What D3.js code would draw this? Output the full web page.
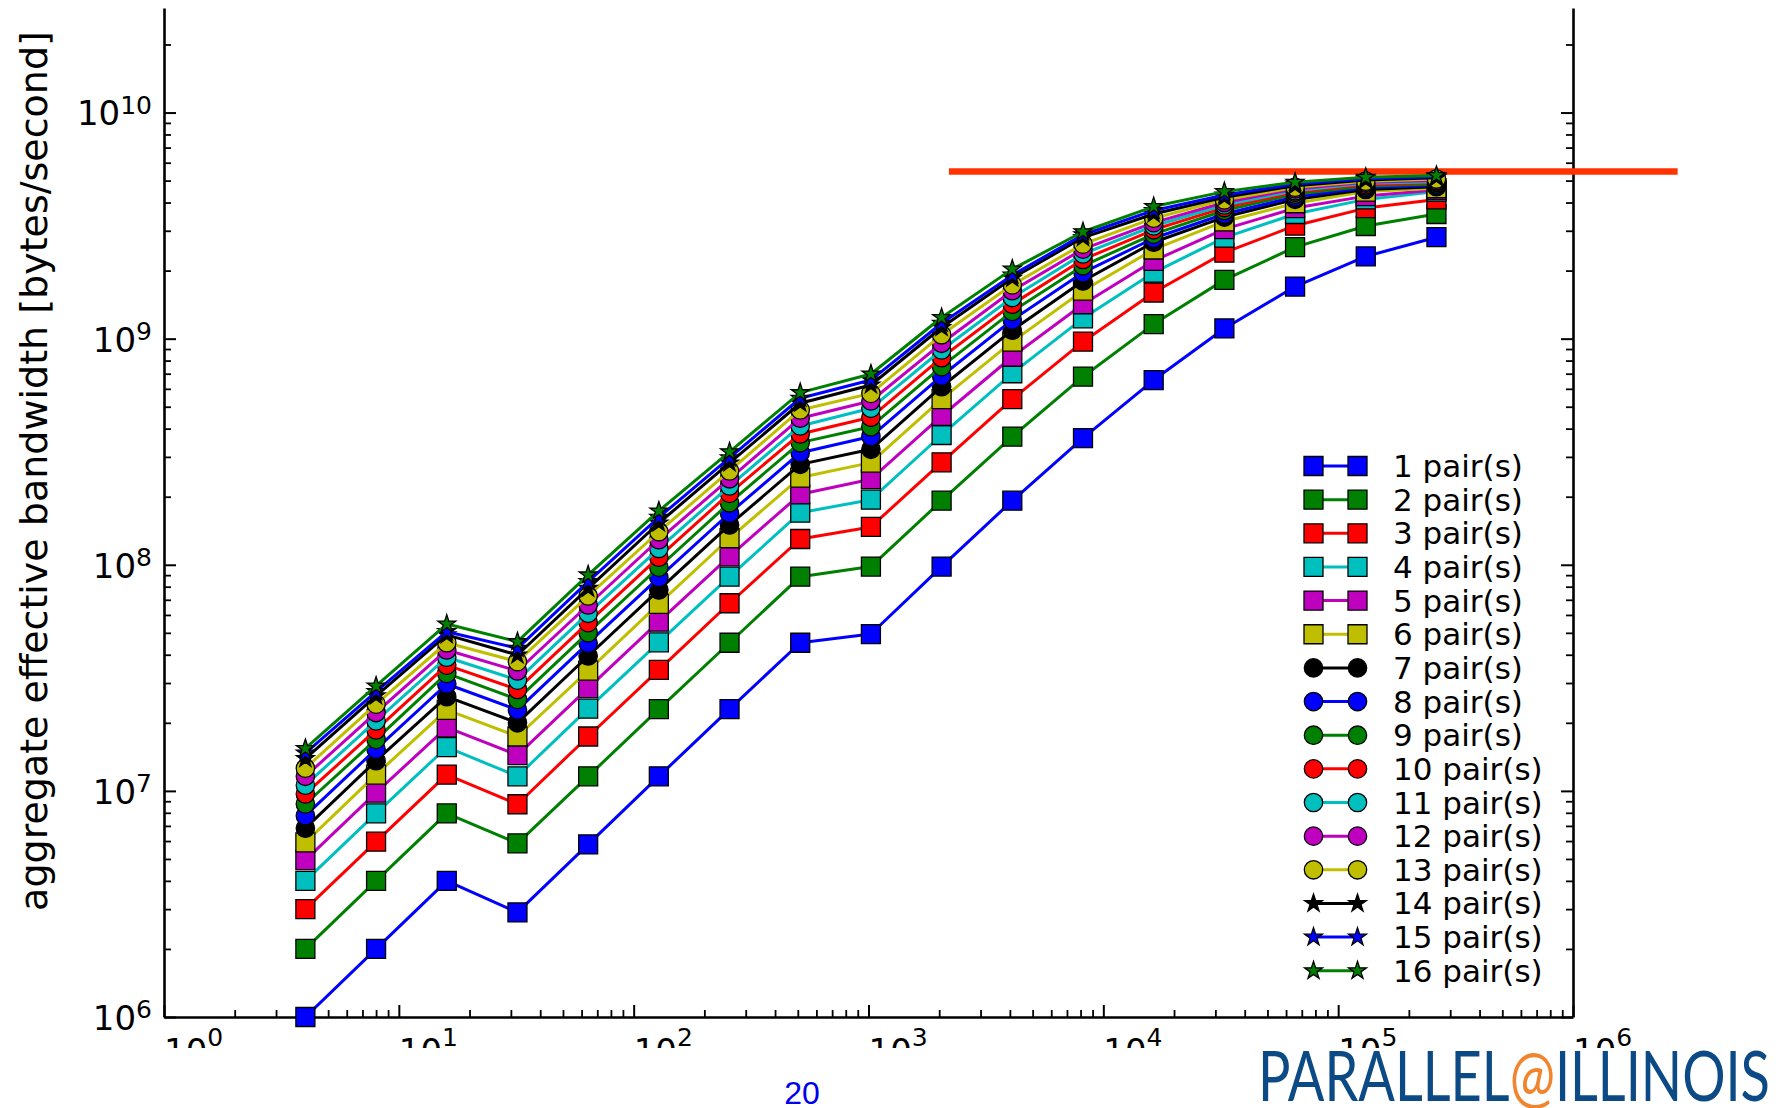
<!DOCTYPE html>
<html>
<head>
<meta charset="utf-8">
<script src="https://cdn.jsdelivr.net/npm/d3@7"></script>
<style>
  html, body { margin: 0; padding: 0; background: #ffffff; }
  svg { display: block; }
</style>
</head>
<body>
<script>
// Message sizes in bytes (x axis)
const messageSizes = [4, 8, 16, 32, 64, 128, 256, 512, 1024, 2048, 4096, 8192, 16384, 32768, 65536, 131072, 262144];

// Aggregate effective bandwidth in bytes/second, one array per number of pairs
const bw01 = [1.0e6, 2.0e6, 4.0e6, 2.9e6, 5.8e6, 1.16e7, 2.3e7, 4.52e7, 4.94e7, 9.82e7, 1.92e8, 3.63e8, 6.56e8, 1.11e9, 1.70e9, 2.31e9, 2.81e9];
const bw02 = [2.0e6, 4.0e6, 7.95e6, 5.86e6, 1.16e7, 2.3e7, 4.52e7, 8.86e7, 9.82e7, 1.92e8, 3.69e8, 6.79e8, 1.16e9, 1.82e9, 2.54e9, 3.15e9, 3.56e9];
const bw03 = [3.0e6, 5.96e6, 1.18e7, 8.73e6, 1.74e7, 3.43e7, 6.76e7, 1.30e8, 1.47e8, 2.84e8, 5.40e8, 9.70e8, 1.60e9, 2.40e9, 3.16e9, 3.78e9, 4.13e9];
const bw04 = [4.0e6, 7.96e6, 1.56e7, 1.16e7, 2.31e7, 4.54e7, 8.86e7, 1.70e8, 1.94e8, 3.75e8, 7.03e8, 1.23e9, 1.96e9, 2.80e9, 3.56e9, 4.13e9, 4.47e9];
const bw05 = [4.94e6, 9.82e6, 1.91e7, 1.44e7, 2.85e7, 5.6e7, 1.09e8, 2.05e8, 2.39e8, 4.55e8, 8.32e8, 1.42e9, 2.21e9, 3.05e9, 3.78e9, 4.27e9, 4.55e9];
const bw06 = [5.92e6, 1.18e7, 2.28e7, 1.74e7, 3.4e7, 6.71e7, 1.31e8, 2.43e8, 2.83e8, 5.40e8, 9.70e8, 1.63e9, 2.48e9, 3.30e9, 3.97e9, 4.47e9, 4.63e9];
const bw07 = [6.84e6, 1.36e7, 2.61e7, 2.0e7, 3.95e7, 7.74e7, 1.50e8, 2.78e8, 3.24e8, 6.13e8, 1.09e9, 1.80e9, 2.67e9, 3.45e9, 4.13e9, 4.57e9, 4.70e9];
const bw08 = [7.77e6, 1.53e7, 2.97e7, 2.28e7, 4.5e7, 8.78e7, 1.69e8, 3.13e8, 3.69e8, 6.84e8, 1.21e9, 1.96e9, 2.78e9, 3.56e9, 4.24e9, 4.66e9, 4.77e9];
const bw09 = [8.75e6, 1.69e7, 3.31e7, 2.54e7, 5.01e7, 9.75e7, 1.88e8, 3.47e8, 4.08e8, 7.52e8, 1.32e9, 2.10e9, 2.90e9, 3.69e9, 4.35e9, 4.73e9, 4.83e9];
const bw10 = [9.69e6, 1.86e7, 3.6e7, 2.81e7, 5.55e7, 1.08e8, 2.07e8, 3.79e8, 4.49e8, 8.24e8, 1.42e9, 2.24e9, 3.03e9, 3.80e9, 4.44e9, 4.80e9, 4.90e9];
const bw11 = [1.06e7, 2.04e7, 3.9e7, 3.09e7, 6.1e7, 1.18e8, 2.23e8, 4.11e8, 4.92e8, 8.91e8, 1.52e9, 2.37e9, 3.15e9, 3.90e9, 4.51e9, 4.87e9, 4.94e9];
const bw12 = [1.16e7, 2.22e7, 4.2e7, 3.39e7, 6.64e7, 1.29e8, 2.40e8, 4.45e8, 5.30e8, 9.54e8, 1.63e9, 2.49e9, 3.26e9, 4.00e9, 4.59e9, 4.92e9, 5.01e9];
const bw13 = [1.26e7, 2.42e7, 4.52e7, 3.73e7, 7.28e7, 1.40e8, 2.60e8, 4.84e8, 5.73e8, 1.04e9, 1.73e9, 2.62e9, 3.41e9, 4.11e9, 4.67e9, 4.97e9, 5.08e9];
const bw14 = [1.39e7, 2.63e7, 4.9e7, 3.99e7, 7.87e7, 1.53e8, 2.82e8, 5.18e8, 6.24e8, 1.12e9, 1.85e9, 2.80e9, 3.56e9, 4.22e9, 4.75e9, 5.03e9, 5.15e9];
const bw15 = [1.47e7, 2.75e7, 5.06e7, 4.27e7, 8.42e7, 1.62e8, 2.97e8, 5.45e8, 6.56e8, 1.17e9, 1.91e9, 2.88e9, 3.69e9, 4.32e9, 4.83e9, 5.10e9, 5.20e9];
const bw16 = [1.54e7, 2.91e7, 5.47e7, 4.57e7, 9.02e7, 1.73e8, 3.16e8, 5.77e8, 6.98e8, 1.24e9, 2.03e9, 2.97e9, 3.84e9, 4.47e9, 4.92e9, 5.17e9, 5.27e9];

const pairCounts = [1, 2, 3, 4, 5, 6, 7, 8, 9, 10, 11, 12, 13, 14, 15, 16];
const seriesLabels = pairCounts.map(n => n + " pair(s)");
const seriesColors = ["#0000ff", "#008000", "#ff0000", "#00bfbf", "#bf00bf", "#bfbf00", "#000000",
                      "#0000ff", "#008000", "#ff0000", "#00bfbf", "#bf00bf", "#bfbf00",
                      "#000000", "#0000ff", "#008000"];
const seriesMarkers = ["square", "square", "square", "square", "square", "square",
                       "circle", "circle", "circle", "circle", "circle", "circle", "circle",
                       "star", "star", "star"];
const bandwidthSeries = [bw01, bw02, bw03, bw04, bw05, bw06, bw07, bw08, bw09, bw10, bw11, bw12, bw13, bw14, bw15, bw16];

// Peak bandwidth reference line
const peakBandwidth = 5.48e9;
const peakLineSizes = [2200, 2.79e6];

// Axis ticks
const xMajorTicks = [1, 10, 100, 1e3, 1e4, 1e5, 1e6];
const yMajorTicks = [1e6, 1e7, 1e8, 1e9, 1e10];
const xMinorTicks = d3.range(0, 6).flatMap(e => d3.range(2, 10).map(m => m * Math.pow(10, e)));
const yMinorTicks = d3.range(6, 11).flatMap(e => d3.range(2, 10).map(m => m * Math.pow(10, e))).filter(v => v < 2.9e10);

const yLabelText = "aggregate effective bandwidth [bytes/second]";
const pageNumber = "20";

// ---- layout ----
const W = 1790, H = 1108;
const plot = { left: 164, right: 1573, top: 8, bottom: 1017 };
const FONT = "'DejaVu Sans', 'Bitstream Vera Sans', sans-serif";
const TICK_FS = 34, SUP_FS = 25;

const svg = d3.select("body").append("svg")
  .attr("width", W).attr("height", H)
  .attr("viewBox", `0 0 ${W} ${H}`);
svg.append("rect").attr("width", W).attr("height", H).attr("fill", "#ffffff");

const x = d3.scaleLog().domain([1, 1e6]).range([plot.left, plot.right]);
const y = d3.scaleLog().domain([1e6, 2.9e10]).range([plot.bottom, plot.top]);

// clip region for the x tick labels (lower part of the page is covered)
svg.append("clipPath").attr("id", "xlabClip")
  .append("rect").attr("x", 0).attr("y", 0).attr("width", W).attr("height", 1048);

function superscriptLabels(sel, supDy) {
  sel.selectAll(".tick text").each(function(d) {
    const e = Math.round(Math.log10(d));
    const t = d3.select(this);
    t.text(null).attr("dy", null).attr("y", null);
    t.append("tspan").text("10");
    t.append("tspan").attr("dy", supDy).attr("font-size", SUP_FS).text(e);
  });
}

const styleTicks = (g, w) => g.selectAll(".tick line").attr("stroke", "#000").attr("stroke-width", w);
const axisStyle = g => {
  g.attr("font-family", FONT).attr("font-size", TICK_FS);
  g.selectAll(".domain").attr("stroke", "#000").attr("stroke-width", 2.6);
  styleTicks(g, 2);
};

// left spine and ticks
const gLeftMinor = svg.append("g").attr("transform", `translate(${plot.left},0)`)
  .call(d3.axisLeft(y).tickValues(yMinorTicks).tickSizeInner(-7).tickSizeOuter(0).tickFormat(""));
gLeftMinor.select(".domain").remove();
styleTicks(gLeftMinor, 1.8);

const gLeft = svg.append("g").attr("transform", `translate(${plot.left},0)`)
  .call(d3.axisLeft(y).tickValues(yMajorTicks).tickSizeInner(-12).tickSizeOuter(0).tickPadding(12)
    .tickFormat(d => String(d)));
axisStyle(gLeft);
superscriptLabels(gLeft, -11.5);
gLeft.selectAll(".tick text").attr("y", 12.4);

// right spine and ticks
const gRightMinor = svg.append("g").attr("transform", `translate(${plot.right},0)`)
  .call(d3.axisRight(y).tickValues(yMinorTicks).tickSizeInner(-7).tickSizeOuter(0).tickFormat(""));
gRightMinor.select(".domain").remove();
styleTicks(gRightMinor, 1.8);
const gRight = svg.append("g").attr("transform", `translate(${plot.right},0)`)
  .call(d3.axisRight(y).tickValues(yMajorTicks).tickSizeInner(-12).tickSizeOuter(0).tickFormat(""));
axisStyle(gRight);

// bottom spine and ticks
const gBottomMinor = svg.append("g").attr("transform", `translate(0,${plot.bottom})`)
  .call(d3.axisBottom(x).tickValues(xMinorTicks).tickSizeInner(-7).tickSizeOuter(0).tickFormat(""));
gBottomMinor.select(".domain").remove();
styleTicks(gBottomMinor, 1.8);

const gBottom = svg.append("g").attr("transform", `translate(0,${plot.bottom})`)
  .call(d3.axisBottom(x).tickValues(xMajorTicks).tickSizeInner(-12).tickSizeOuter(0)
    .tickFormat(d => String(d)));
axisStyle(gBottom);
superscriptLabels(gBottom, -17);
gBottom.selectAll(".tick text").attr("y", 46);
// bottom tick labels live in a clipped group
const gBottomLabels = svg.append("g").attr("clip-path", "url(#xlabClip)");
gBottom.selectAll(".tick").each(function(d) {
  const txt = d3.select(this).select("text").remove().node();
  gBottomLabels.append(() => txt)
    .attr("transform", `translate(${x(d)},${plot.bottom})`)
    .attr("font-family", FONT).attr("font-size", TICK_FS).attr("fill", "#000");
});

// y label
svg.append("text")
  .attr("transform", `translate(47,471) rotate(-90)`)
  .attr("text-anchor", "middle")
  .attr("font-family", FONT).attr("font-size", 38)
  .attr("fill", "#000")
  .text(yLabelText);

// ---- peak bandwidth line ----
svg.append("line")
  .attr("x1", x(peakLineSizes[0])).attr("x2", x(peakLineSizes[1]))
  .attr("y1", y(peakBandwidth)).attr("y2", y(peakBandwidth))
  .attr("stroke", "#ff3300").attr("stroke-width", 6.5);

// ---- data series ----
const markerSym = {
  square: d3.symbol(d3.symbolSquare, 19 * 19),
  circle: d3.symbol(d3.symbolCircle, Math.PI * 9.2 * 9.2),
  star: d3.symbol(d3.symbolStar, 100)
};
const line = d3.line().x(d => x(d[0])).y(d => y(d[1]));

bandwidthSeries.forEach((vals, i) => {
  const pts = messageSizes.map((s, j) => [s, vals[j]]);
  const g = svg.append("g");
  g.append("path").attr("d", line(pts))
    .attr("fill", "none").attr("stroke", seriesColors[i]).attr("stroke-width", 3)
    .attr("stroke-linejoin", "round");
  g.selectAll("path.mk").data(pts).join("path").attr("class", "mk")
    .attr("transform", d => `translate(${x(d[0])},${y(d[1])})`)
    .attr("d", markerSym[seriesMarkers[i]]())
    .attr("fill", seriesColors[i]).attr("stroke", "#000").attr("stroke-width", 1.3);
});

// ---- legend ----
const legend = svg.append("g");
const legRow0 = 466, legStep = 33.65, legX1 = 1313.5, legX2 = 1357.5, legTextX = 1393;
seriesLabels.forEach((lab, i) => {
  const cy = legRow0 + i * legStep;
  const g = legend.append("g");
  g.append("line").attr("x1", legX1).attr("x2", legX2).attr("y1", cy).attr("y2", cy)
    .attr("stroke", seriesColors[i]).attr("stroke-width", 3);
  [legX1, legX2].forEach(mx => {
    g.append("path").attr("transform", `translate(${mx},${cy})`)
      .attr("d", markerSym[seriesMarkers[i]]())
      .attr("fill", seriesColors[i]).attr("stroke", "#000").attr("stroke-width", 1.3);
  });
  g.append("text").attr("x", legTextX).attr("y", cy + 11)
    .attr("font-family", FONT).attr("font-size", 31).attr("fill", "#000")
    .text(lab);
});

// ---- page footer ----
svg.append("text").attr("x", 802).attr("y", 1104)
  .attr("text-anchor", "middle")
  .attr("font-family", "'Liberation Sans', Arial, sans-serif").attr("font-size", 32)
  .attr("fill", "#0000ee").text(pageNumber);

const logo = svg.append("text").attr("x", 1258).attr("y", 1101)
  .attr("font-family", "Lato, 'Open Sans', 'DejaVu Sans', sans-serif")
  .attr("font-weight", 400)
  .attr("font-size", 70)
  .attr("textLength", 512).attr("lengthAdjust", "spacingAndGlyphs");
logo.append("tspan").attr("fill", "#0c4a86").text("PARALLEL");
logo.append("tspan").attr("fill", "#f0852d").text("@");
logo.append("tspan").attr("fill", "#0c4a86").text("ILLINOIS");
</script>
</body>
</html>
